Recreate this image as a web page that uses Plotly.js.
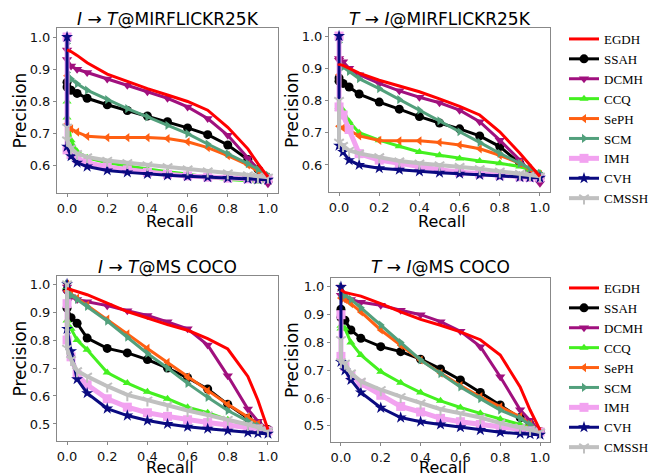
<!DOCTYPE html>
<html>
<head>
<meta charset="utf-8">
<script src="https://cdn.plot.ly/plotly-3.0.1.min.js"></script>
<style>html,body{margin:0;padding:0;background:#fff}#chart{width:658px;height:475px}</style>
</head>
<body>
<div id="chart"></div>
<script>
// Recall sample points (two points at recall 0 for the initial drop)
const recall = [0, 0, 0.02, 0.05, 0.1, 0.2, 0.3, 0.4, 0.5, 0.6, 0.7, 0.8, 0.9, 0.95, 1.0];

const methods = ['EGDH','SSAH','DCMH','CCQ','SePH','SCM','IMH','CVH','CMSSH'];

// Panel 1: I->T @ MIRFLICKR25K
const mirI2T_EGDH  = [0.96,0.96,0.955,0.943,0.92,0.885,0.862,0.84,0.82,0.80,0.773,0.72,0.653,0.607,0.566];
const mirI2T_SSAH  = [0.86,0.845,0.835,0.825,0.81,0.79,0.772,0.755,0.737,0.718,0.697,0.665,0.62,0.59,0.56];
const mirI2T_DCMH  = [0.96,0.93,0.91,0.90,0.89,0.87,0.85,0.83,0.81,0.783,0.747,0.695,0.623,0.59,0.545];
const mirI2T_CCQ   = [0.80,0.75,0.68,0.645,0.625,0.61,0.60,0.59,0.582,0.575,0.565,0.558,0.553,0.552,0.555];
const mirI2T_SePH  = [0.88,0.73,0.715,0.705,0.692,0.688,0.688,0.688,0.685,0.675,0.657,0.632,0.603,0.585,0.565];
const mirI2T_SCM   = [0.98,0.89,0.87,0.855,0.835,0.806,0.778,0.752,0.726,0.70,0.668,0.638,0.607,0.59,0.571];
const mirI2T_IMH   = [1.0,0.65,0.635,0.622,0.61,0.597,0.588,0.58,0.574,0.569,0.565,0.562,0.56,0.56,0.56];
const mirI2T_CVH   = [1.0,0.66,0.63,0.61,0.598,0.586,0.58,0.575,0.571,0.568,0.565,0.563,0.56,0.558,0.557];
const mirI2T_CMSSH = [0.72,0.68,0.655,0.638,0.628,0.617,0.61,0.603,0.597,0.59,0.584,0.578,0.572,0.568,0.565];

// Panel 2: T->I @ MIRFLICKR25K
const mirT2I_EGDH  = [0.915,0.912,0.909,0.90,0.885,0.863,0.845,0.827,0.805,0.782,0.755,0.703,0.636,0.60,0.564];
const mirT2I_SSAH  = [0.87,0.86,0.853,0.842,0.82,0.795,0.773,0.75,0.73,0.712,0.69,0.657,0.605,0.58,0.56];
const mirT2I_DCMH  = [0.93,0.925,0.92,0.90,0.88,0.853,0.83,0.81,0.793,0.77,0.734,0.677,0.615,0.58,0.543];
const mirT2I_CCQ   = [0.78,0.775,0.77,0.735,0.70,0.677,0.658,0.64,0.63,0.62,0.612,0.605,0.595,0.585,0.575];
const mirT2I_SePH  = [0.88,0.72,0.715,0.708,0.69,0.676,0.675,0.675,0.67,0.662,0.65,0.63,0.605,0.588,0.57];
const mirT2I_SCM   = [0.98,0.91,0.904,0.89,0.868,0.837,0.803,0.77,0.737,0.703,0.67,0.636,0.605,0.59,0.574];
const mirT2I_IMH   = [1.0,0.78,0.755,0.71,0.635,0.615,0.604,0.595,0.585,0.577,0.572,0.567,0.563,0.561,0.56];
const mirT2I_CVH   = [1.0,0.66,0.64,0.615,0.60,0.59,0.585,0.58,0.576,0.573,0.569,0.565,0.562,0.561,0.56];
const mirT2I_CMSSH = [0.80,0.67,0.66,0.645,0.636,0.625,0.612,0.605,0.60,0.595,0.588,0.58,0.573,0.569,0.565];

// Panel 3: I->T @ MS COCO
const cocoI2T_EGDH  = [0.985,0.985,0.98,0.972,0.962,0.932,0.902,0.879,0.855,0.835,0.805,0.768,0.67,0.585,0.48];
const cocoI2T_SSAH  = [0.98,0.914,0.88,0.86,0.807,0.77,0.754,0.73,0.70,0.665,0.625,0.57,0.52,0.50,0.48];
const cocoI2T_DCMH  = [0.99,0.97,0.955,0.945,0.937,0.923,0.905,0.888,0.865,0.84,0.782,0.672,0.553,0.51,0.48];
const cocoI2T_CCQ   = [0.99,0.87,0.84,0.80,0.765,0.684,0.646,0.615,0.59,0.56,0.54,0.515,0.495,0.487,0.478];
const cocoI2T_SePH  = [1.0,0.975,0.965,0.95,0.925,0.875,0.822,0.77,0.72,0.668,0.618,0.57,0.525,0.50,0.48];
const cocoI2T_SCM   = [1.0,0.97,0.96,0.945,0.92,0.868,0.81,0.752,0.70,0.645,0.595,0.548,0.51,0.493,0.48];
const cocoI2T_IMH   = [0.93,0.80,0.74,0.676,0.64,0.59,0.56,0.54,0.527,0.515,0.505,0.496,0.488,0.482,0.475];
const cocoI2T_CVH   = [1.0,0.84,0.76,0.66,0.61,0.555,0.53,0.512,0.50,0.49,0.483,0.476,0.47,0.467,0.465];
const cocoI2T_CMSSH = [1.0,0.77,0.73,0.69,0.67,0.635,0.604,0.585,0.567,0.548,0.532,0.516,0.498,0.488,0.475];

// Panel 4: T->I @ MS COCO
const cocoT2I_EGDH  = [0.99,0.99,0.98,0.975,0.967,0.94,0.91,0.883,0.862,0.838,0.81,0.755,0.64,0.557,0.485];
const cocoT2I_SSAH  = [0.92,0.89,0.88,0.845,0.815,0.785,0.767,0.74,0.705,0.665,0.62,0.575,0.53,0.505,0.48];
const cocoT2I_DCMH  = [1.0,0.97,0.958,0.955,0.945,0.934,0.916,0.90,0.875,0.84,0.785,0.677,0.558,0.52,0.48];
const cocoT2I_CCQ   = [0.86,0.85,0.85,0.80,0.755,0.695,0.655,0.62,0.59,0.566,0.545,0.525,0.505,0.495,0.48];
const cocoT2I_SePH  = [0.99,0.96,0.955,0.94,0.91,0.845,0.79,0.737,0.69,0.645,0.605,0.568,0.533,0.505,0.48];
const cocoT2I_SCM   = [1.0,0.975,0.97,0.955,0.925,0.863,0.80,0.737,0.688,0.64,0.598,0.557,0.527,0.505,0.48];
const cocoT2I_IMH   = [0.9,0.75,0.713,0.68,0.653,0.61,0.57,0.55,0.527,0.515,0.505,0.495,0.487,0.482,0.478];
const cocoT2I_CVH   = [1.0,0.73,0.70,0.665,0.62,0.565,0.53,0.515,0.505,0.495,0.485,0.477,0.472,0.47,0.468];
const cocoT2I_CMSSH = [0.81,0.73,0.725,0.69,0.66,0.63,0.605,0.582,0.56,0.545,0.53,0.51,0.495,0.487,0.478];

const panelTitles = ['<i>I</i> → <i>T</i>@MIRFLICKR25K','<i>T</i> → <i>I</i>@MIRFLICKR25K',
                     '<i>I</i> → <i>T</i>@MS COCO','<i>T</i> → <i>I</i>@MS COCO'];
const xTitle = 'Recall';
const yTitle = 'Precision';
const xTicks = [0, 0.2, 0.4, 0.6, 0.8, 1.0];
const xTickText = ['0.0','0.2','0.4','0.6','0.8','1.0'];
const yTicksMir = [0.6, 0.7, 0.8, 0.9, 1.0];
const yTicksCoco = [0.5, 0.6, 0.7, 0.8, 0.9, 1.0];

const panels = [
  {EGDH:mirI2T_EGDH,SSAH:mirI2T_SSAH,DCMH:mirI2T_DCMH,CCQ:mirI2T_CCQ,SePH:mirI2T_SePH,SCM:mirI2T_SCM,IMH:mirI2T_IMH,CVH:mirI2T_CVH,CMSSH:mirI2T_CMSSH},
  {EGDH:mirT2I_EGDH,SSAH:mirT2I_SSAH,DCMH:mirT2I_DCMH,CCQ:mirT2I_CCQ,SePH:mirT2I_SePH,SCM:mirT2I_SCM,IMH:mirT2I_IMH,CVH:mirT2I_CVH,CMSSH:mirT2I_CMSSH},
  {EGDH:cocoI2T_EGDH,SSAH:cocoI2T_SSAH,DCMH:cocoI2T_DCMH,CCQ:cocoI2T_CCQ,SePH:cocoI2T_SePH,SCM:cocoI2T_SCM,IMH:cocoI2T_IMH,CVH:cocoI2T_CVH,CMSSH:cocoI2T_CMSSH},
  {EGDH:cocoT2I_EGDH,SSAH:cocoT2I_SSAH,DCMH:cocoT2I_DCMH,CCQ:cocoT2I_CCQ,SePH:cocoT2I_SePH,SCM:cocoT2I_SCM,IMH:cocoT2I_IMH,CVH:cocoT2I_CVH,CMSSH:cocoT2I_CMSSH}
];

const style = {
  EGDH:  {color:'#ff0000', lw:3,   sym:null,            ms:0},
  SSAH:  {color:'#000000', lw:3,   sym:'circle',        ms:9},
  DCMH:  {color:'#a0107e', lw:3,   sym:'triangle-down', ms:9},
  CCQ:   {color:'#44f020', lw:3,   sym:'triangle-up',   ms:8},
  SePH:  {color:'#ff5f12', lw:3,   sym:'triangle-left', ms:8},
  SCM:   {color:'#52a07c', lw:3,   sym:'triangle-right',ms:8},
  IMH:   {color:'#f2a2f0', lw:5,   sym:'square',        ms:9},
  CVH:   {color:'#0a0a80', lw:3,   sym:'star',          ms:9},
  CMSSH: {color:'#c0c0c0', lw:4,   sym:'y-down-open',   ms:8}
};

const drawOrder = ['SSAH','DCMH','CCQ','SePH','SCM','IMH','CVH','CMSSH','EGDH'];
const data = [];
panels.forEach((pan, i) => {
  const ax = i === 0 ? '' : String(i + 1);
  drawOrder.forEach(m => {
    const s = style[m];
    const tr = {
      x: recall, y: pan[m], type: 'scatter', name: m,
      xaxis: 'x' + ax, yaxis: 'y' + ax,
      mode: s.sym ? 'lines+markers' : 'lines',
      line: {color: s.color, width: s.lw},
      legendrank: methods.indexOf(m) + 1,
      showlegend: (i === 0 || i === 2),
      legend: i >= 2 ? 'legend2' : 'legend',
      cliponaxis: true
    };
    if (s.sym) {
      tr.marker = {symbol: s.sym, size: s.ms, color: s.color,
                   line: {color: s.color, width: s.sym.indexOf('open') >= 0 ? 2 : 0}};
    }
    data.push(tr);
  });
});

const W = 658, H = 475;
const boxes = [
  {l:57, r:278, t:28, b:193, yr:[0.516, 1.028], yt:yTicksMir},
  {l:329, r:550, t:28, b:192, yr:[0.516, 1.025], yt:yTicksMir},
  {l:57, r:278, t:276, b:441, yr:[0.439, 1.029], yt:yTicksCoco},
  {l:331, r:550, t:278, b:442, yr:[0.442, 1.032], yt:yTicksCoco}
];
const tickFont = {family:'DejaVu Sans', size:13, color:'#111'};
const legFont = {family:'Liberation Serif', size:13, color:'#000'};
const layout = {
  width: W, height: H,
  margin: {l:0, r:0, t:0, b:0},
  paper_bgcolor:'#fff', plot_bgcolor:'#fff',
  showlegend: true,
  annotations: [],
  legend: {x: 564/W, y: 1 - 24/H, xanchor:'left', yanchor:'top', itemwidth:30,
           font: legFont, bgcolor:'rgba(0,0,0,0)', tracegroupgap:0},
  legend2: {x: 564/W, y: 1 - 273/H, xanchor:'left', yanchor:'top', itemwidth:30,
           font: legFont, bgcolor:'rgba(0,0,0,0)', tracegroupgap:0}
};
boxes.forEach((b, i) => {
  const ax = i === 0 ? '' : String(i + 1);
  layout['xaxis' + ax] = {
    domain:[b.l / W, b.r / W], range:[-0.05, 1.05], anchor:'y' + ax,
    tickvals:xTicks, ticktext:xTickText, ticks:'outside', ticklen:3, tickcolor:'#888',
    showline:true, mirror:true, linecolor:'#888', linewidth:1, showgrid:false, zeroline:false,
    tickfont: tickFont, fixedrange:true
  };
  layout['yaxis' + ax] = {
    domain:[1 - b.b / H, 1 - b.t / H], range:b.yr, anchor:'x' + ax,
    tickvals:b.yt, ticktext:b.yt.map(v => v.toFixed(1)), ticks:'outside', ticklen:3, tickcolor:'#888',
    showline:true, mirror:true, linecolor:'#888', linewidth:1, showgrid:false, zeroline:false,
    tickfont: tickFont, fixedrange:true
  };
  const cx = (b.l + b.r) / 2;
  layout.annotations.push({text: panelTitles[i], xref:'paper', yref:'paper', x: cx / W, y: 1 - (i < 2 ? 19 : 267) / H,
    xanchor:'center', yanchor:'middle', showarrow:false, font:{family:'DejaVu Sans', size:17, color:'#000'}});
  layout.annotations.push({text: xTitle, xref:'paper', yref:'paper', x: (cx + 2) / W, y: 1 - (i < 2 ? 221 : 467) / H,
    xanchor:'center', yanchor:'middle', showarrow:false, font:{family:'DejaVu Sans', size:16, color:'#000'}});
  layout.annotations.push({text: yTitle, xref:'paper', yref:'paper', x: (i % 2 === 0 ? 19 : 292) / W, y: 1 - (b.t + b.b) / 2 / H,
    xanchor:'center', yanchor:'middle', textangle:-90, showarrow:false, font:{family:'DejaVu Sans', size:17, color:'#000'}});
});

Plotly.newPlot('chart', data, layout, {displayModeBar:false, staticPlot:true});
</script>
</body>
</html>
